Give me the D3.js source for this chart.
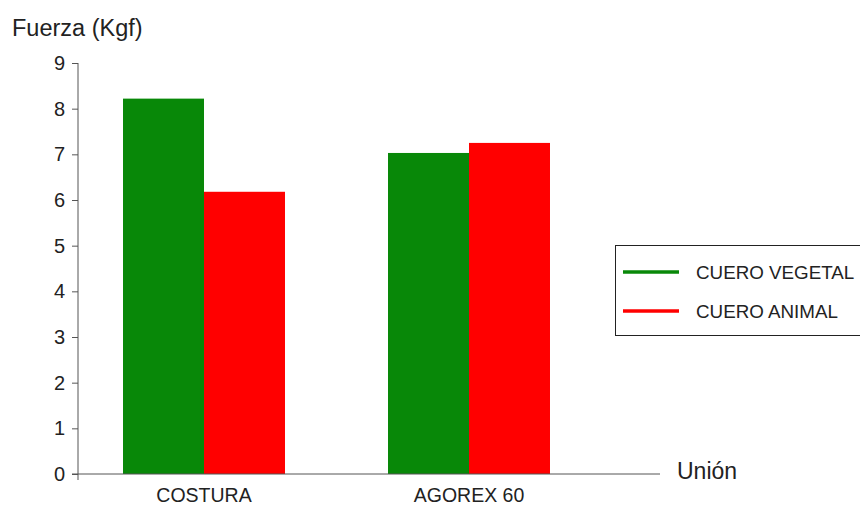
<!DOCTYPE html>
<html>
<head>
<meta charset="utf-8">
<script src="https://cdn.jsdelivr.net/npm/d3@7"></script>
<style>
  body { margin: 0; background: #fff; }
  svg { display: block; font-family: "Liberation Sans", Arial, sans-serif; }
</style>
</head>
<body>
<svg id="chart" width="860" height="506"></svg>
<script>
// Data
const categories = ["COSTURA", "AGOREX 60"];
const seriesNames = ["CUERO VEGETAL", "CUERO ANIMAL"];
const vegetal = [8.22, 7.03];
const animal = [6.18, 7.25];
const yTicks = [0, 1, 2, 3, 4, 5, 6, 7, 8, 9];
const colors = ["#088808", "#ff0000"];

const svg = d3.select("#chart");
const y0 = 474, yTop = 63, axisX = 78;
const FONT = "Liberation Sans, Arial, sans-serif";

const y = d3.scaleLinear().domain([0, 9]).range([y0, yTop]);
const x0 = d3.scaleBand().domain(categories).range([71.5, 601.5]).padding(0);
const x1 = d3.scaleBand().domain(seriesNames).range([0, x0.bandwidth()])
  .paddingInner(0).paddingOuter(0.636);

const rows = categories.map((c, i) => ({ cat: c, values: [vegetal[i], animal[i]] }));

// Bars
const g = svg.append("g");
rows.forEach(r => {
  r.values.forEach((v, j) => {
    g.append("rect")
      .attr("x", x0(r.cat) + x1(seriesNames[j]))
      .attr("y", y(v))
      .attr("width", x1.bandwidth())
      .attr("height", y0 - y(v))
      .attr("fill", colors[j]);
  });
});

// Y axis
const yAxis = d3.axisLeft(y).tickValues(yTicks).tickSize(6).tickPadding(7);
const ya = svg.append("g").attr("transform", `translate(${axisX},0)`).call(yAxis);
ya.attr("font-size", null).attr("font-family", null);
ya.select(".domain").attr("d", `M0,${yTop}V${y0 + 6}`).attr("stroke", "#555");
ya.selectAll(".tick line").attr("stroke", "#555");
ya.selectAll(".tick text").style("font-size", "20px").attr("fill", "#222")
  .style("font-family", FONT);

// X axis baseline
svg.append("line").attr("x1", 72).attr("x2", 660).attr("y1", y0).attr("y2", y0)
  .attr("stroke", "#555");

// Category labels
svg.selectAll(".cat").data(categories).enter().append("text")
  .attr("x", d => x0(d) + x0.bandwidth() / 2)
  .attr("y", 502)
  .attr("text-anchor", "middle")
  .style("font-size", "19.5px").attr("fill", "#222")
  .text(d => d);

// Axis titles
svg.append("text").attr("x", 12).attr("y", 36).style("font-size", "23.5px").attr("fill", "#222")
  .text("Fuerza (Kgf)");
svg.append("text").attr("x", 677).attr("y", 479).style("font-size", "23px").attr("fill", "#222")
  .text("Unión");

// Legend
const lg = svg.append("g");
lg.append("rect").attr("x", 615.5).attr("y", 245.5).attr("width", 260).attr("height", 90)
  .attr("fill", "#fff").attr("stroke", "#222");
seriesNames.forEach((s, i) => {
  const ly = 272 + i * 39;
  lg.append("line").attr("x1", 623).attr("x2", 679).attr("y1", ly).attr("y2", ly)
    .attr("stroke", colors[i]).attr("stroke-width", 3.5);
  lg.append("text").attr("x", 696).attr("y", ly + 6.5).style("font-size", "18.8px").attr("fill", "#222")
    .text(s);
});
</script>
</body>
</html>
